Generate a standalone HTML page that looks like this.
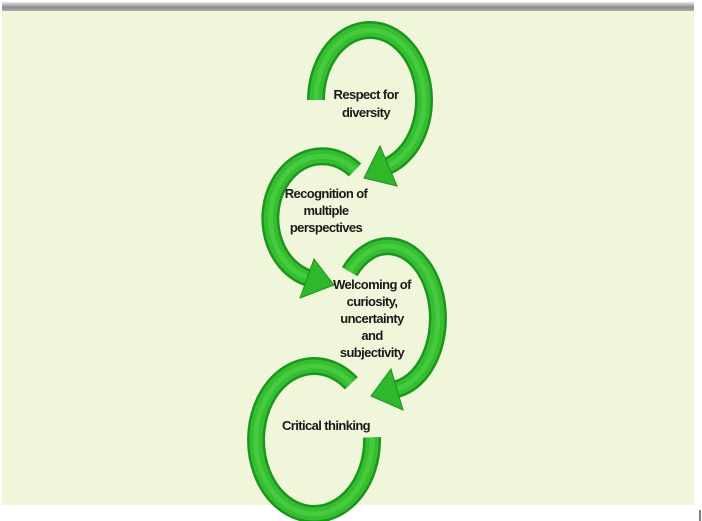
<!DOCTYPE html>
<html><head><meta charset="utf-8"><style>
html,body{margin:0;padding:0;background:#fff;width:702px;height:521px;overflow:hidden}
.t{font-family:"Liberation Sans",sans-serif;font-weight:bold;font-size:13px;fill:#1a1a1a;text-anchor:middle;letter-spacing:-0.6px}
</style></head><body>
<svg width="702" height="521" viewBox="0 0 702 521" xmlns="http://www.w3.org/2000/svg">
<defs>
<linearGradient id="bar" x1="0" y1="0" x2="0" y2="1"><stop offset="0" stop-color="#e8e8e8"/><stop offset="0.6" stop-color="#8a8a8a"/><stop offset="1" stop-color="#b0b0b0"/></linearGradient>
</defs>
<rect x="2" y="10" width="692" height="495" fill="#f0f6da"/>
<rect x="2" y="2" width="692" height="9" fill="url(#bar)"/>
<line x1="700" y1="510" x2="700" y2="521" stroke="#000" stroke-width="1"/>
<g fill="none" stroke-linecap="butt">
<g stroke="#1e9420" stroke-width="18">
<path d="M316,100 A54,70 0 1 1 388,166"/>
<path d="M355,170 A52,62 0 1 0 308.5,278"/>
<path d="M349.7,271.7 A50,72 0 1 1 396.7,389"/>
<path d="M351.3,383.3 A58,74 0 1 0 372,437.4"/>
</g>
<g stroke="#34bf2f" stroke-width="13">
<path d="M316,100 A54,70 0 1 1 388,166"/>
<path d="M355,170 A52,62 0 1 0 308.5,278"/>
<path d="M349.7,271.7 A50,72 0 1 1 396.7,389"/>
<path d="M351.3,383.3 A58,74 0 1 0 372,437.4"/>
</g>
<g stroke="#55d24c" stroke-width="5" opacity="0.6">
<path d="M316,100 A54,70 0 1 1 388,166"/>
<path d="M355,170 A52,62 0 1 0 308.5,278"/>
<path d="M349.7,271.7 A50,72 0 1 1 396.7,389"/>
<path d="M351.3,383.3 A58,74 0 1 0 372,437.4"/>
</g>
</g>
<g fill="#30b82c" stroke="#1e8f1f" stroke-width="1">
<polygon points="397,186 380,146 364,178"/>
<polygon points="300,298 314,259 334,285"/>
<polygon points="403,410 391,369 371,396"/>
</g>
<text class="t" x="366" y="99">Respect for</text>
<text class="t" x="366" y="117">diversity</text>
<text class="t" x="326" y="198">Recognition of</text>
<text class="t" x="326" y="215">multiple</text>
<text class="t" x="326" y="232">perspectives</text>
<text class="t" x="372" y="289">Welcoming of</text>
<text class="t" x="372" y="306">curiosity,</text>
<text class="t" x="372" y="323">uncertainty</text>
<text class="t" x="372" y="340">and</text>
<text class="t" x="372" y="357">subjectivity</text>
<text class="t" x="326" y="430">Critical thinking</text>
</svg>
</body></html>
